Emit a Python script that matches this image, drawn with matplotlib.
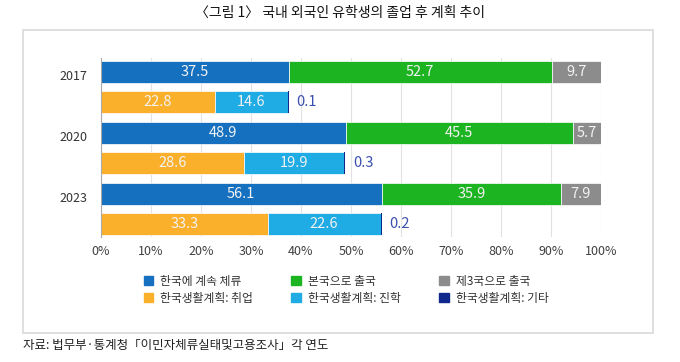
import matplotlib.pyplot as plt
import numpy as np
from matplotlib.patches import Rectangle, Patch

plt.rcParams['font.family'] = ['Noto Sans CJK KR', 'DejaVu Sans']

years = ["2017", "2020", "2023"]

# 1st row of each year: stay / leave to home / leave to 3rd country
stay = [37.5, 48.9, 56.1]
home = [52.7, 45.5, 35.9]
third = [9.7, 5.7, 7.9]

# 2nd row of each year: plans in Korea
job = [22.8, 28.6, 33.3]
study = [14.6, 19.9, 22.6]
other = [0.1, 0.3, 0.2]

labels = ["한국에 계속 체류", "본국으로 출국", "제3국으로 출국",
          "한국생활계획: 취업", "한국생활계획: 진학", "한국생활계획: 기타"]
colors = ["#1570bf", "#1db422", "#8c8c8c", "#fbb02c", "#1fabe4", "#10288c"]

fig = plt.figure(figsize=(6.8, 3.62), dpi=100)
ax = fig.add_axes([101 / 680, 1 - 237 / 362, 500 / 680, 179 / 362])

# frame around the chart
fig.patches.append(Rectangle((23 / 680, 1 - 333 / 362), 630 / 680, 303 / 362,
                             transform=fig.transFigure, fill=False,
                             edgecolor="#d9d9d9", linewidth=1.2))

h = 0.72
top_rows = np.arange(len(years)) * 2
bot_rows = top_rows + 1

def stack(rows, series, cols, small=None):
    left = np.zeros(len(rows))
    for k, (vals, c) in enumerate(zip(series, cols)):
        vals = np.array(vals)
        lw = 0 if k == small else 0.5
        bars = ax.barh(rows, vals, left=left, height=h, color=c,
                       edgecolor="white", linewidth=lw)
        for b, v in zip(bars, vals):
            if small is not None and k == small:
                ax.text(b.get_x() + b.get_width() + 1.6, b.get_y() + h / 2, f"{v}",
                        ha="left", va="center", color="#3a4fae", fontsize=10.5)
            else:
                ax.text(b.get_x() + b.get_width() / 2, b.get_y() + h / 2, f"{v}",
                        ha="center", va="center", color="#f2f2f2", fontsize=10.5)
        left = left + vals

stack(top_rows, [stay, home, third], colors[:3])
stack(bot_rows, [job, study, other], colors[3:], small=2)

ax.set_xlim(0, 100)
ax.set_ylim(5.42, -0.46)
ax.set_xticks(np.arange(0, 101, 10))
ax.set_xticklabels([f"{t}%" for t in range(0, 101, 10)], fontsize=9, color="#404040")
ax.set_yticks(top_rows + 0.1)
ax.set_yticklabels(years, fontsize=9, color="#333333")
ax.tick_params(length=0, pad=6)
ax.tick_params(axis="y", pad=10)
ax.xaxis.grid(True, color="#e2e2e2", linewidth=0.8)
ax.set_axisbelow(True)
for s in ["top", "right", "bottom"]:
    ax.spines[s].set_visible(False)
ax.spines["left"].set_color("#aaaaaa")

order = [0, 3, 1, 4, 2, 5]
handles = [Patch(color=colors[i]) for i in order]
fig.legend(handles, [labels[i] for i in order], ncol=3, frameon=False,
           loc="center left", bbox_to_anchor=(133 / 680, 1 - 290 / 362),
           fontsize=8.5, handlelength=0.8, handleheight=0.8, handletextpad=0.6,
           columnspacing=3.25, labelspacing=0.35, labelcolor="#333333")

fig.text(0.5, 1 - 13 / 362, "〈그림 1〉 국내 외국인 유학생의 졸업 후 계획 추이",
         ha="center", va="center", fontsize=10, color="#111111", fontweight="medium")
fig.text(23 / 680, 1 - 345 / 362, "자료: 법무부·통계청「이민자체류실태및고용조사」각 연도",
         ha="left", va="center", fontsize=9, color="#222222")

fig.savefig("out.png", dpi=100)
